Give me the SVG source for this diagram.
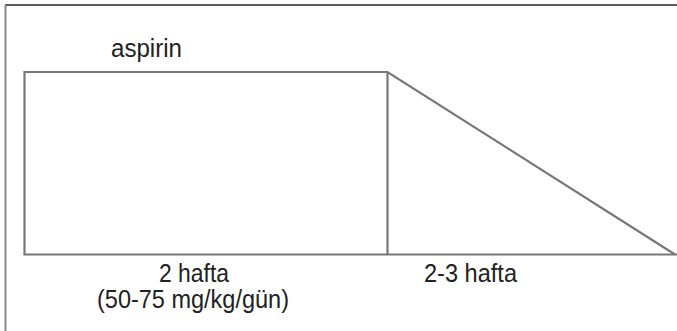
<svg xmlns="http://www.w3.org/2000/svg" width="677" height="331" viewBox="0 0 677 331">
<style>
.t{font-family:"Liberation Sans",Arial,sans-serif;font-size:25.5px;fill:#222;}
.ln{stroke:#777;stroke-width:2.2;fill:none;}
</style>
<rect width="677" height="331" fill="#fff"/>
<g id="frame">
<line x1="5" y1="5" x2="677" y2="5" stroke="#222" stroke-width="1.5"/>
<line x1="5.5" y1="5" x2="5.5" y2="331" stroke="#888" stroke-width="2"/>
</g>
<g id="connectors">
<polyline class="ln" points="24.5,254.5 24.5,72 387.5,72 675,254.5"/>
<line class="ln" x1="387.5" y1="72" x2="387.5" y2="254.5"/>
<line class="ln" x1="23.5" y1="254.5" x2="677" y2="254.5"/>
</g>
<g id="label-aspirin"><text class="t" x="111" y="57" textLength="71" lengthAdjust="spacingAndGlyphs">aspirin</text></g>
<g id="label-2hafta">
<text class="t" x="159" y="282" textLength="70" lengthAdjust="spacingAndGlyphs">2 hafta</text>
<text class="t" x="97" y="308" textLength="192" lengthAdjust="spacingAndGlyphs">(50-75 mg/kg/gün)</text>
</g>
<g id="label-23hafta"><text class="t" x="424" y="282" textLength="93" lengthAdjust="spacingAndGlyphs">2-3 hafta</text></g>
</svg>
